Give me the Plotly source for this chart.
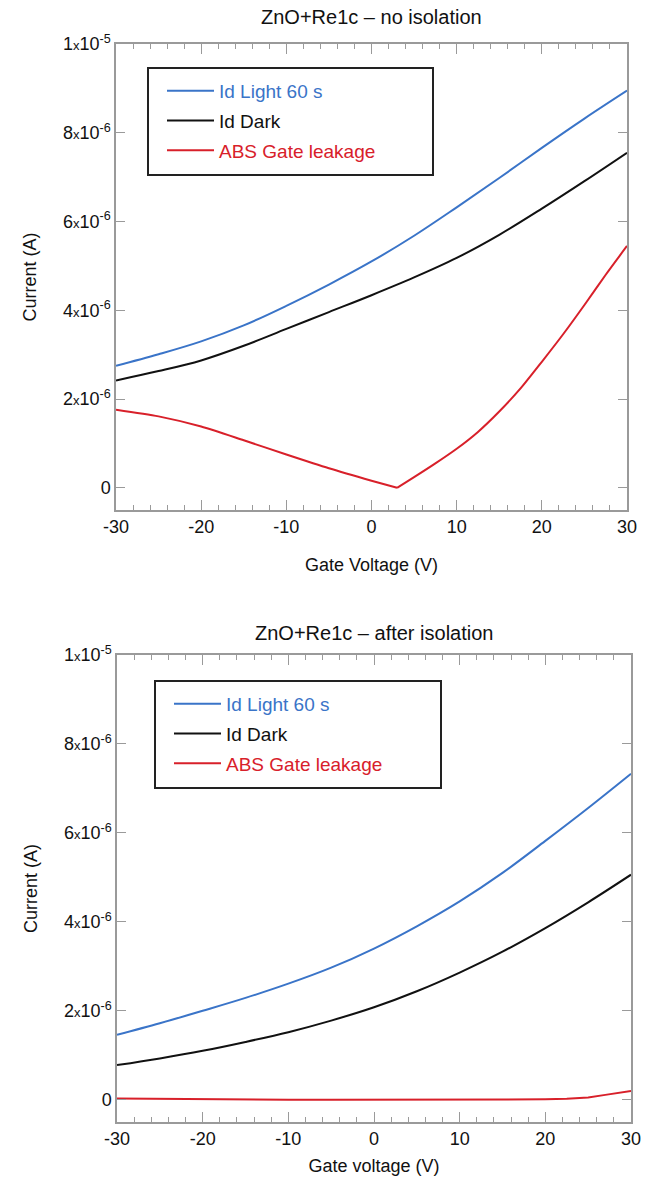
import plotly.graph_objects as go

# Gate sweep (V)
gate_v = [-30, -25, -20, -15, -10, -5, 0, 5, 10, 15, 20, 25, 30]

# Drain / leakage currents in microamps
light_no_iso_uA = [2.75, 3.01, 3.30, 3.66, 4.10, 4.58, 5.10, 5.68, 6.32, 6.98, 7.66, 8.32, 8.95]
dark_no_iso_uA = [2.42, 2.63, 2.87, 3.20, 3.58, 3.96, 4.34, 4.74, 5.18, 5.70, 6.29, 6.91, 7.55]
leak_v_no_iso = [-30, -25, -20, -15, -10, -5, 0, 3, 5, 7.5, 10, 12.5, 15, 17.5, 20, 22.5, 25, 27.5, 30]
leak_no_iso_uA = [1.76, 1.61, 1.38, 1.07, 0.75, 0.44, 0.16, 0.0, 0.24, 0.55, 0.88, 1.26, 1.72, 2.24, 2.84, 3.46, 4.12, 4.80, 5.45]

light_iso_uA = [1.46, 1.72, 2.00, 2.29, 2.61, 2.97, 3.40, 3.90, 4.46, 5.10, 5.82, 6.56, 7.33]
dark_iso_uA = [0.78, 0.93, 1.10, 1.30, 1.52, 1.78, 2.08, 2.44, 2.86, 3.33, 3.86, 4.44, 5.06]
leak_v_iso = [-30, -25, -20, -15, -10, -5, 0, 5, 10, 15, 20, 22.5, 25, 27, 28.5, 30]
leak_iso_uA = [0.03, 0.02, 0.01, 0.005, 0.0, 0.0, 0.0, 0.0, 0.0, 0.005, 0.01, 0.02, 0.05, 0.11, 0.15, 0.20]

titles = ["ZnO+Re1c \u2013 no isolation", "ZnO+Re1c \u2013 after isolation"]
x_titles = ["Gate Voltage (V)", "Gate voltage (V)"]
series_names = ["Id Light 60 s", "Id Dark", "ABS Gate leakage"]

x_tickvals = [-30, -20, -10, 0, 10, 20, 30]
x_ticktext = ["-30", "-20", "-10", "0", "10", "20", "30"]
y_tickvals = [0, 2e-6, 4e-6, 6e-6, 8e-6, 1e-5]
y_ticktext = ["0"] + [
    f"{m}<span style='font-size:13px'>x</span>10<sup>{e}</sup>"
    for m, e in [(2, -6), (4, -6), (6, -6), (8, -6), (1, -5)]
]

BLUE = "#3a74c8"
BLACK = "#111111"
RED = "#d8202a"
AXIS = "#9a9a9a"
FONT = "Arial, Liberation Sans, sans-serif"

W, H = 651, 1188

def amps(vals):
    return [v * 1e-6 for v in vals]

def split_at_min(xs, ys):
    """Split a |I| curve at its zero crossing so each branch is smoothed separately."""
    k = ys.index(min(ys))
    return [(xs[:k + 1], ys[:k + 1]), (xs[k:], ys[k:])]

fig = go.Figure()

panels = [
    dict(light=light_no_iso_uA, dark=dark_no_iso_uA, lv=leak_v_no_iso, leak=leak_no_iso_uA,
         leak_shape="spline",
         px=(116, 627), py=(44, 510), legend_box=(148, 68, 433, 175), legend_xy=(162, 72),
         title_y=17, xtitle_standoff=22),
    dict(light=light_iso_uA, dark=dark_iso_uA, lv=leak_v_iso, leak=leak_iso_uA,
         leak_shape="linear",
         px=(117, 631), py=(655, 1122), legend_box=(155, 681, 441, 788), legend_xy=(169, 685),
         title_y=633, xtitle_standoff=11),
]

for i, p in enumerate(panels):
    n = "" if i == 0 else str(i + 1)
    xa, ya = "x" + n, "y" + n
    leg = "legend" + n

    for k, (ys, c) in enumerate([(p["light"], BLUE), (p["dark"], BLACK)]):
        fig.add_trace(go.Scatter(
            x=gate_v, y=amps(ys), mode="lines",
            line=dict(color=c, width=2, shape="spline", smoothing=1.0),
            name=f"<span style='color:{c}'>{series_names[k]}</span>",
            xaxis=xa, yaxis=ya, legend=leg, legendgroup=f"{i}-{k}",
        ))

    if p["leak_shape"] == "spline":
        branches = split_at_min(p["lv"], p["leak"])
    else:
        branches = [(p["lv"], p["leak"])]
    for b, (xs, ys) in enumerate(branches):
        fig.add_trace(go.Scatter(
            x=xs, y=amps(ys), mode="lines",
            line=dict(color=RED, width=2, shape=p["leak_shape"],
                      smoothing=0.7 if p["leak_shape"] == "spline" else None),
            name=f"<span style='color:{RED}'>{series_names[2]}</span>",
            xaxis=xa, yaxis=ya, legend=leg, legendgroup=f"{i}-2", showlegend=(b == 0),
        ))

    x0, x1 = p["px"]
    y0, y1 = p["py"]
    axis_common = dict(
        showline=True, linecolor=AXIS, linewidth=1.5, mirror="ticks",
        ticks="inside", tickcolor=AXIS, tickwidth=1.2,
        showgrid=False, zeroline=False, automargin=False,
        tickfont=dict(family=FONT, size=18, color="#111"),
    )
    fig.layout["xaxis" + n] = dict(
        axis_common, domain=[x0 / W, x1 / W], anchor=ya, range=[-30, 30],
        tickvals=x_tickvals, ticktext=x_ticktext, ticklen=10,
        minor=dict(dtick=2, ticklen=5, ticks="inside", tickcolor=AXIS, tickwidth=1),
        title=dict(text=x_titles[i], font=dict(family=FONT, size=18, color="#111"),
                   standoff=p["xtitle_standoff"]),
    )
    fig.layout["yaxis" + n] = dict(
        axis_common, domain=[1 - y1 / H, 1 - y0 / H], anchor=xa, range=[-0.5e-6, 1.0e-5],
        tickvals=y_tickvals, ticktext=y_ticktext, ticklen=9,
        title=dict(text="Current (A)", font=dict(family=FONT, size=18, color="#111"), standoff=22),
    )

    bx0, by0, bx1, by1 = p["legend_box"]
    fig.add_shape(type="rect", xref="paper", yref="paper",
                  x0=bx0 / W, x1=bx1 / W, y0=1 - by1 / H, y1=1 - by0 / H,
                  line=dict(color="#222", width=2), fillcolor="rgba(0,0,0,0)", layer="above")
    lx, ly = p["legend_xy"]
    fig.layout[leg] = dict(
        x=lx / W, y=1 - ly / H, xanchor="left", yanchor="top",
        bgcolor="rgba(0,0,0,0)", borderwidth=0, itemwidth=47,
        font=dict(family=FONT, size=19), tracegroupgap=2,
    )

    fig.add_annotation(
        text=titles[i], xref="paper", yref="paper",
        x=(x0 + x1) / 2 / W, y=1 - p["title_y"] / H, xanchor="center", yanchor="middle",
        showarrow=False, font=dict(family=FONT, size=20, color="#111"),
    )

fig.update_layout(
    width=W, height=H, margin=dict(l=0, r=0, t=0, b=0, autoexpand=False),
    paper_bgcolor="white", plot_bgcolor="white", showlegend=True,
)

fig.write_html("out.html")
